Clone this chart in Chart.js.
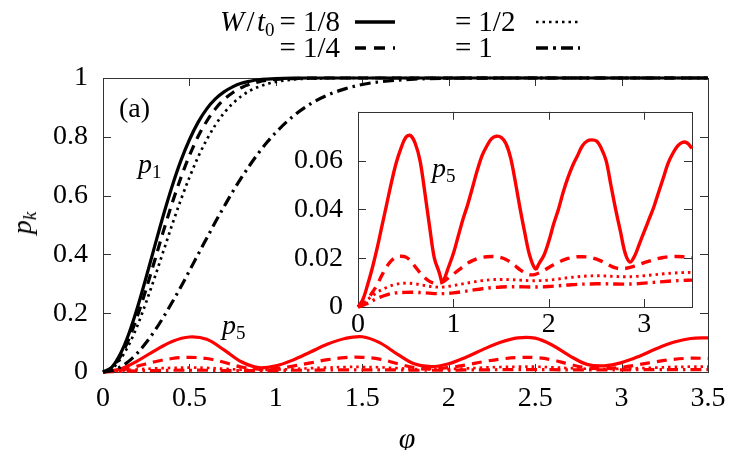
<!DOCTYPE html>
<html><head><meta charset="utf-8">
<script src="https://cdn.jsdelivr.net/npm/chart.js@4.4.0/dist/chart.umd.min.js"></script>
<style>
html,body{margin:0;padding:0;background:#fff;}
#wrap{position:relative;width:750px;height:450px;overflow:hidden;font-family:'Liberation Serif','Times New Roman','DejaVu Serif',serif;color:#000;}
canvas{position:absolute;}
#main{left:0;top:0;}
#inset{left:270px;top:80px;}
.t{position:absolute;font-size:28px;line-height:26px;white-space:nowrap;}
.t sub{font-size:19px;position:relative;top:5px;vertical-align:baseline;line-height:0;}
.t i{font-style:italic;}
.lg{font-size:29px;}
.eq{display:inline-block;margin:0 7px 0 5px;}
svg{position:absolute;}
</style></head>
<body>
<div id="wrap">
<canvas id="main" width="750" height="450"></canvas>
<canvas id="inset" width="440" height="260"></canvas>

<div class="t lg" style="right:410px;top:8px"><i>W</i>&#8202;/&#8202;<i>t</i><sub>0</sub><span class="eq">=</span>1/8</div>
<div class="t lg" style="right:410px;top:34px"><span class="eq">=</span>1/4</div>
<div class="t lg" style="left:450px;top:8px"><span class="eq">=</span>1/2</div>
<div class="t lg" style="left:450px;top:34px"><span class="eq">=</span>1</div>
<svg style="left:354px;top:14px" width="44" height="16"><line x1="1" y1="8" x2="41" y2="8" stroke="#000" stroke-width="3.5"/></svg>
<svg style="left:354px;top:40px" width="44" height="16"><line x1="1" y1="8" x2="41" y2="8" stroke="#000" stroke-width="3.5" stroke-dasharray="11 8"/></svg>
<svg style="left:535px;top:14px" width="48" height="16"><line x1="1" y1="8" x2="45" y2="8" stroke="#000" stroke-width="2.5" stroke-dasharray="2.5 4"/></svg>
<svg style="left:535px;top:40px" width="48" height="16"><line x1="1" y1="8" x2="45" y2="8" stroke="#000" stroke-width="3.5" stroke-dasharray="12 5 3 5"/></svg>

<div class="t" style="left:119px;top:95px">(a)</div>
<div class="t" style="left:138px;top:151px"><i>p</i><sub>1</sub></div>
<div class="t" style="left:222px;top:312px"><i>p</i><sub>5</sub></div>
<div class="t" style="left:432px;top:155px"><i>p</i><sub>5</sub></div>
<div class="t" style="left:22px;top:223px;transform:translate(-50%,-50%) rotate(-90deg)"><i>p</i><sub><i>k</i></sub></div>
<div class="t" style="left:407px;top:438px;font-size:30px;transform:translate(-50%,-50%)"><i>φ</i></div>
</div>

<script>
// ---------- data ----------
const W_LABELS = ['1/8', '1/4', '1/2', '1'];

const mainXTicks = [0, 0.5, 1, 1.5, 2, 2.5, 3, 3.5];
const mainYTicks = [0, 0.2, 0.4, 0.6, 0.8, 1];
const insetXTicks = [0, 1, 2, 3];
const insetYTicks = [0, 0.02, 0.04, 0.06];

// p1 (black), main panel
const phiP1 = [0,0.05,0.1,0.15,0.2,0.25,0.3,0.35,0.4,0.45,0.5,0.55,0.6,0.65,0.7,0.75,0.8,0.85,0.9,0.95,1.0,1.1,1.2,1.3,1.4,1.5,1.6,1.8,2.0,2.5,3.0,3.5];
const p1W8 = [0,0.0155,0.061,0.131,0.221,0.323,0.430,0.535,0.632,0.718,0.790,0.849,0.895,0.929,0.953,0.970,0.982,0.989,0.994,0.9965,0.998,0.9995,1,1,1,1,1,1,1,1,1,1];
const p1W4 = [0,0.013,0.052,0.113,0.192,0.283,0.381,0.480,0.574,0.660,0.736,0.801,0.853,0.895,0.927,0.950,0.967,0.979,0.987,0.992,0.995,0.998,0.9995,1,1,1,1,1,1,1,1,1];
const p1W2 = [0,0.011,0.043,0.093,0.159,0.238,0.323,0.412,0.501,0.585,0.662,0.731,0.790,0.840,0.881,0.913,0.938,0.957,0.970,0.980,0.987,0.995,0.998,0.9993,1,1,1,1,1,1,1,1];
const p1W1 = [0,0.004,0.017,0.037,0.065,0.100,0.141,0.187,0.237,0.289,0.344,0.400,0.455,0.510,0.562,0.613,0.660,0.704,0.745,0.782,0.815,0.870,0.912,0.942,0.963,0.978,0.987,0.996,0.999,1,1,1];

// p5 (red), main panel
const phiMain = [0,0.1,0.2,0.3,0.4,0.5,0.6,0.7,0.8,0.9,1.0,1.1,1.2,1.3,1.4,1.5,1.6,1.7,1.8,1.9,2.0,2.1,2.2,2.3,2.4,2.5,2.6,2.7,2.8,2.9,3.0,3.1,3.2,3.3,3.4,3.5];
const p5MainW8 = [0,0.010,0.038,0.073,0.104,0.119,0.111,0.075,0.035,0.015,0.021,0.041,0.068,0.095,0.114,0.120,0.100,0.062,0.028,0.018,0.028,0.050,0.077,0.101,0.116,0.115,0.091,0.055,0.026,0.021,0.032,0.053,0.079,0.101,0.114,0.116];
const p5MainW4 = [0,0.006,0.020,0.035,0.046,0.050,0.046,0.033,0.017,0.010,0.012,0.020,0.031,0.042,0.049,0.050,0.044,0.029,0.015,0.011,0.015,0.024,0.035,0.044,0.049,0.049,0.041,0.026,0.014,0.012,0.016,0.025,0.035,0.043,0.047,0.046];
const p5MainW2 = [0,0.004,0.009,0.012,0.014,0.015,0.014,0.011,0.008,0.007,0.008,0.010,0.013,0.015,0.017,0.017,0.016,0.013,0.010,0.009,0.010,0.012,0.015,0.017,0.018,0.018,0.016,0.013,0.011,0.010,0.011,0.013,0.015,0.017,0.018,0.018];
const p5MainW1 = [0,0.002,0.004,0.005,0.006,0.006,0.006,0.005,0.005,0.005,0.005,0.006,0.006,0.007,0.007,0.007,0.007,0.007,0.006,0.006,0.006,0.007,0.007,0.008,0.008,0.008,0.008,0.007,0.007,0.007,0.007,0.008,0.008,0.008,0.008,0.008];

// p5 (red), inset
const phiInsetSolid = [0,0.05,0.1,0.15,0.2,0.25,0.3,0.35,0.4,0.45,0.5,0.55,0.6,0.65,0.7,0.75,0.8,0.85,0.885,0.95,1.0,1.05,1.1,1.15,1.2,1.25,1.3,1.35,1.4,1.45,1.5,1.55,1.6,1.65,1.7,1.75,1.8,1.86,1.9,1.95,2.0,2.05,2.1,2.15,2.2,2.25,2.3,2.35,2.4,2.45,2.5,2.55,2.6,2.65,2.7,2.75,2.8,2.85,2.9,2.95,3.0,3.05,3.1,3.15,3.2,3.25,3.3,3.35,3.4,3.45,3.5];
const p5InsetW8 = [0,0.003,0.009,0.016,0.024,0.033,0.042,0.051,0.059,0.065,0.0695,0.0703,0.067,0.060,0.047,0.033,0.020,0.0143,0.0104,0.0165,0.022,0.029,0.036,0.042,0.049,0.056,0.062,0.066,0.069,0.070,0.0695,0.067,0.061,0.051,0.040,0.030,0.021,0.0156,0.018,0.0213,0.027,0.034,0.040,0.047,0.053,0.058,0.062,0.066,0.068,0.0685,0.068,0.065,0.060,0.050,0.040,0.031,0.022,0.0184,0.021,0.026,0.031,0.036,0.041,0.047,0.053,0.059,0.063,0.066,0.0675,0.0672,0.065];
const phiInset = [0,0.05,0.1,0.15,0.2,0.25,0.3,0.35,0.4,0.45,0.5,0.55,0.6,0.65,0.7,0.75,0.8,0.85,0.9,0.95,1.0,1.05,1.1,1.15,1.2,1.25,1.3,1.35,1.4,1.45,1.5,1.55,1.6,1.65,1.7,1.75,1.8,1.85,1.9,1.95,2.0,2.05,2.1,2.15,2.2,2.25,2.3,2.35,2.4,2.45,2.5,2.55,2.6,2.65,2.7,2.75,2.8,2.85,2.9,2.95,3.0,3.05,3.1,3.15,3.2,3.25,3.3,3.35,3.4,3.45,3.5];
const p5InsetW4 = [0,0.001,0.003,0.006,0.009,0.013,0.0165,0.019,0.0205,0.0208,0.0205,0.019,0.0165,0.014,0.012,0.0105,0.0098,0.0097,0.0105,0.012,0.0135,0.015,0.0165,0.018,0.019,0.0198,0.0203,0.0206,0.0207,0.0206,0.0202,0.0195,0.0183,0.0168,0.0152,0.014,0.0132,0.0133,0.014,0.015,0.0162,0.0173,0.0183,0.0192,0.0199,0.0203,0.0206,0.0206,0.0205,0.0202,0.0196,0.0188,0.0178,0.0168,0.016,0.0157,0.0158,0.0162,0.0168,0.0175,0.0182,0.0188,0.0194,0.0199,0.0203,0.0206,0.0207,0.0207,0.0206,0.0204,0.0202];
const p5InsetW2 = [0,0.003,0.006,0.008,0.0093,0.0098,0.0095,0.0088,0.0082,0.0082,0.0088,0.0095,0.0102,0.0108,0.0112,0.0113,0.0112,0.011,0.0108,0.0108,0.011,0.0115,0.012,0.0124,0.0127,0.0128,0.0127,0.0125,0.0124,0.0125,0.0128,0.0132,0.0136,0.0139,0.0141,0.0142];
const p5InsetW1 = [0,0.0015,0.0035,0.005,0.0058,0.006,0.006,0.0058,0.0055,0.0055,0.0058,0.0063,0.0069,0.0075,0.0079,0.0082,0.0083,0.0083,0.0082,0.0082,0.0084,0.0087,0.009,0.0093,0.0094,0.0095,0.0095,0.0094,0.0094,0.0095,0.0098,0.0101,0.0104,0.0107,0.0109,0.011];

// ---------- styling ----------
const FONT = {family: "'Liberation Serif', 'Times New Roman', 'DejaVu Serif', serif", size: 28};
const DASH = {solid: [], dashed: [10, 7], dotted: [2.5, 4], dashdot: [11, 5, 2.5, 5]};
const STYLES = ['solid', 'dashed', 'dotted', 'dashdot'];

function ds(label, xs, ys, color, style, w, smooth) {
  const d = {
    label: label,
    data: xs.map((x, i) => ({x: x, y: ys[i]})),
    borderColor: color,
    borderWidth: style === 'dotted' ? (w - 0.5) : w,
    borderDash: DASH[style],
    borderCapStyle: 'butt',
    borderJoinStyle: 'round',
    pointRadius: 0,
    fill: false,
    clip: 5
  };
  if (smooth === 'monotone') d.cubicInterpolationMode = 'monotone';
  else d.tension = 0.35;
  return d;
}

const frameTicks = {
  id: 'frameTicks',
  beforeDraw(chart, args, opts) {
    if (opts.fill) {
      const a = chart.chartArea, ctx = chart.ctx;
      ctx.save(); ctx.fillStyle = '#fff';
      ctx.fillRect(a.left, a.top, a.right - a.left, a.bottom - a.top);
      ctx.restore();
    }
  },
  beforeDatasetsDraw(chart, args, opts) {
    const a = chart.chartArea, ctx = chart.ctx, sx = chart.scales.x, sy = chart.scales.y;
    const L = opts.len || 8;
    ctx.save();
    ctx.strokeStyle = opts.color || '#333';
    ctx.lineWidth = 1;
    ctx.beginPath();
    (opts.xTicks || []).forEach(v => {
      const px = Math.round(sx.getPixelForValue(v)) + 0.5;
      ctx.moveTo(px, a.bottom); ctx.lineTo(px, a.bottom - L);
      ctx.moveTo(px, a.top); ctx.lineTo(px, a.top + L);
    });
    (opts.yTicks || []).forEach(v => {
      const py = Math.round(sy.getPixelForValue(v)) + 0.5;
      ctx.moveTo(a.left, py); ctx.lineTo(a.left + L, py);
      ctx.moveTo(a.right, py); ctx.lineTo(a.right - L, py);
    });
    ctx.stroke();
    ctx.strokeRect(Math.round(a.left) + 0.5, Math.round(a.top) + 0.5, Math.round(a.right - a.left), Math.round(a.bottom - a.top));
    ctx.restore();
  }
};

function fmt(v) { return String(+(+v).toFixed(3)); }

// ---------- main chart ----------
const mainDatasets = [];
[p1W8, p1W4, p1W2, p1W1].forEach((ys, k) => mainDatasets.push(ds('p1 W/t0=' + W_LABELS[k], phiP1, ys, '#000', STYLES[k], 3.2, 'monotone')));
[p5MainW8, p5MainW4, p5MainW2, p5MainW1].forEach((ys, k) => mainDatasets.push(ds('p5 W/t0=' + W_LABELS[k], phiMain, ys, '#ff0000', STYLES[k], 3.2, 'tension')));

new Chart(document.getElementById('main'), {
  type: 'line',
  data: {datasets: mainDatasets},
  plugins: [frameTicks],
  options: {
    responsive: false, animation: false, events: [],
    layout: {padding: {left: 0, right: 42, top: 78, bottom: 0}},
    plugins: {legend: {display: false}, tooltip: {enabled: false},
      frameTicks: {xTicks: mainXTicks, yTicks: mainYTicks, len: 8, color: '#333'}},
    scales: {
      x: {type: 'linear', min: 0, max: 3.5,
        afterFit: s => { s.height = 78; },
        afterBuildTicks: s => { s.ticks = mainXTicks.map(v => ({value: v})); },
        grid: {display: false, drawTicks: false}, border: {display: false},
        ticks: {font: FONT, color: '#000', padding: 10, maxRotation: 0, autoSkip: false, callback: v => fmt(v)}},
      y: {type: 'linear', min: 0, max: 1,
        afterFit: s => { s.width = 103; },
        afterBuildTicks: s => { s.ticks = mainYTicks.map(v => ({value: v})); },
        grid: {display: false, drawTicks: false}, border: {display: false},
        ticks: {font: FONT, color: '#000', padding: 15, autoSkip: false, callback: v => fmt(v)}}
    }
  }
});

// ---------- inset chart ----------
const insetDatasets = [
  ds('p5 W/t0=1/8', phiInsetSolid, p5InsetW8, '#ff0000', 'solid', 3.4, 'tension'),
  ds('p5 W/t0=1/4', phiInset, p5InsetW4, '#ff0000', 'dashed', 3.4, 'tension'),
  ds('p5 W/t0=1/2', phiMain, p5InsetW2, '#ff0000', 'dotted', 3.4, 'tension'),
  ds('p5 W/t0=1', phiMain, p5InsetW1, '#ff0000', 'dashdot', 3.4, 'tension')
];

new Chart(document.getElementById('inset'), {
  type: 'line',
  data: {datasets: insetDatasets},
  plugins: [frameTicks],
  options: {
    responsive: false, animation: false, events: [],
    layout: {padding: {left: 0, right: 18, top: 9, bottom: 0}},
    plugins: {legend: {display: false}, tooltip: {enabled: false},
      frameTicks: {fill: true, xTicks: insetXTicks, yTicks: insetYTicks, len: 8, color: '#333'}},
    scales: {
      x: {type: 'linear', min: 0, max: 3.5,
        afterFit: s => { s.height = 33; },
        afterBuildTicks: s => { s.ticks = insetXTicks.map(v => ({value: v})); },
        grid: {display: false, drawTicks: false}, border: {display: false},
        ticks: {font: FONT, color: '#000', padding: 1, maxRotation: 0, autoSkip: false, callback: v => fmt(v)}},
      y: {type: 'linear', min: 0, max: 0.08,
        afterFit: s => { s.width = 88; },
        afterBuildTicks: s => { s.ticks = insetYTicks.map(v => ({value: v})); },
        grid: {display: false, drawTicks: false}, border: {display: false},
        ticks: {font: FONT, color: '#000', padding: 15, autoSkip: false, callback: v => fmt(v)}}
    }
  }
});
</script>
</body></html>
